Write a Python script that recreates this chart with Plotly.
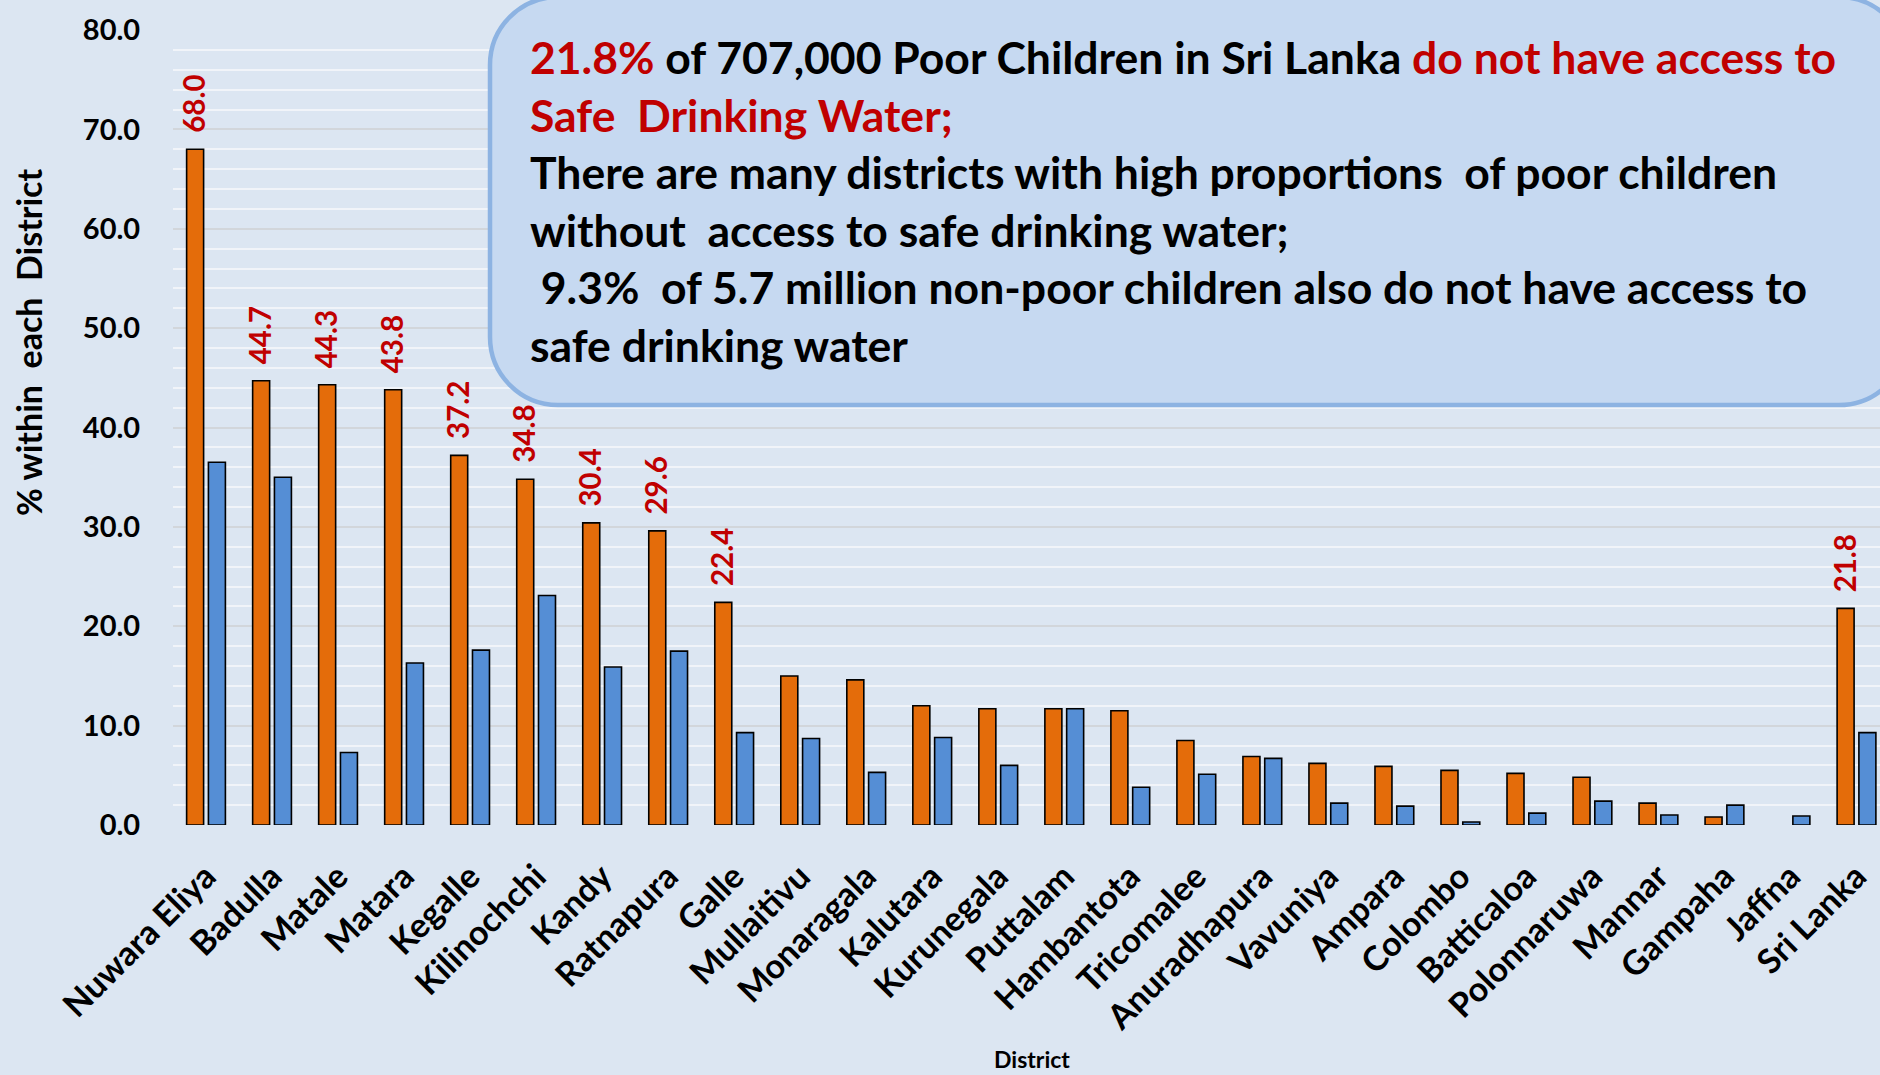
import plotly.graph_objects as go

# ---------------- data ----------------
districts = ["Nuwara Eliya", "Badulla", "Matale", "Matara", "Kegalle", "Kilinochchi",
             "Kandy", "Ratnapura", "Galle", "Mullaitivu", "Monaragala", "Kalutara",
             "Kurunegala", "Puttalam", "Hambantota", "Tricomalee", "Anuradhapura",
             "Vavuniya", "Ampara", "Colombo", "Batticaloa", "Polonnaruwa", "Mannar",
             "Gampaha", "Jaffna", "Sri Lanka"]
poor = [68.0, 44.7, 44.3, 43.8, 37.2, 34.8, 30.4, 29.6, 22.4, 15.0, 14.6, 12.0,
        11.7, 11.7, 11.5, 8.5, 6.9, 6.2, 5.9, 5.5, 5.2, 4.8, 2.2, 0.8, None, 21.8]
non_poor = [36.5, 35.0, 7.3, 16.3, 17.6, 23.1, 15.9, 17.5, 9.3, 8.7, 5.3, 8.8,
            6.0, 11.7, 3.8, 5.1, 6.7, 2.2, 1.9, 0.3, 1.2, 2.4, 1.0, 2.0, 0.9, 9.3]
labelled = ["Nuwara Eliya", "Badulla", "Matale", "Matara", "Kegalle", "Kilinochchi",
            "Kandy", "Ratnapura", "Galle", "Sri Lanka"]
y_ticks = [0, 10, 20, 30, 40, 50, 60, 70, 80]

# ---------------- layout geometry (px) ----------------
W_PAGE, H_PAGE = 1880, 1075
L, R, T, B = 173, 1880, 30, 825
PW, PH = R - L, B - T

def px_x(x):
    return (x - L) / PW

def px_y(y):
    return (B - y) / PH

BG = "#dce6f2"
ORANGE = "#e46c0a"
BLUE = "#558ed5"
RED = "#c00000"
FONT = "Lato"

fig = go.Figure()
fig.add_trace(go.Bar(x=districts, y=poor, name="Poor",
                     marker=dict(color=ORANGE, line=dict(color="#000000", width=1.6))))
fig.add_trace(go.Bar(x=districts, y=non_poor, name="Non-poor",
                     marker=dict(color=BLUE, line=dict(color="#000000", width=1.6))))

annotations = []
# data labels on orange bars
for d, v in zip(districts, poor):
    if d in labelled and v is not None:
        annotations.append(dict(x=d, y=v, xref="x", yref="y", text=f"{v:.1f}", showarrow=False,
                                textangle=-90, xanchor="center", yanchor="bottom", xshift=-12.5, yshift=14,
                                font=dict(family=FONT, size=29.5, color=RED, weight=700)))

# y-axis title
annotations.append(dict(x=px_x(28), y=px_y(342), xref="paper", yref="paper", text="% within  each  District",
                        showarrow=False, textangle=-90, xanchor="center", yanchor="middle",
                        font=dict(family=FONT, size=34, color="#000000", weight=700)))
# x-axis title
annotations.append(dict(x=px_x(1032), y=px_y(1059), xref="paper", yref="paper", text="District",
                        showarrow=False, xanchor="center", yanchor="middle",
                        font=dict(family=FONT, size=23, color="#000000", weight=700)))

# callout box text
def red(s):
    return f"<span style='color:{RED}'>{s}</span>"

box_lines = [
    red("21.8%") + " of 707,000 Poor Children in Sri Lanka " + red("do not have access to"),
    red("Safe\u00a0 Drinking Water;"),
    "There are many districts with high proportions\u00a0 of poor children",
    "without\u00a0 access to safe drinking water;",
    "\u00a09.3%\u00a0 of 5.7 million non-poor children also do not have access to",
    "safe drinking water",
]
baselines = [72.7, 130.2, 187.7, 245.2, 302.7, 360.2]
BOX_FS = 44.5
for txt, bl in zip(box_lines, baselines):
    annotations.append(dict(x=px_x(528), y=px_y(bl - 0.36 * BOX_FS), xref="paper", yref="paper", text=txt,
                            showarrow=False, xanchor="left", yanchor="middle", align="left",
                            font=dict(family=FONT, size=BOX_FS, color="#000000", weight=700)))

# rounded box shape
x0, x1 = px_x(490), px_x(1907)
y0, y1 = px_y(405), px_y(-3)
r = 68
rx, ry = r / PW, r / PH
k = 0.5523
path = (f"M {x0+rx},{y1} L {x1-rx},{y1} "
        f"C {x1-rx+k*rx},{y1} {x1},{y1-ry+k*ry} {x1},{y1-ry} "
        f"L {x1},{y0+ry} "
        f"C {x1},{y0+ry-k*ry} {x1-rx+k*rx},{y0} {x1-rx},{y0} "
        f"L {x0+rx},{y0} "
        f"C {x0+rx-k*rx},{y0} {x0},{y0+ry-k*ry} {x0},{y0+ry} "
        f"L {x0},{y1-ry} "
        f"C {x0},{y1-ry+k*ry} {x0+rx-k*rx},{y1} {x0+rx},{y1} Z")

fig.update_layout(
    width=W_PAGE, height=H_PAGE,
    margin=dict(l=L, r=W_PAGE - R, t=T, b=H_PAGE - B, pad=0),
    paper_bgcolor=BG, plot_bgcolor=BG,
    showlegend=False,
    barmode="group", bargap=0.34, bargroupgap=0.22,
    annotations=annotations,
    shapes=[dict(type="path", path=path, xref="paper", yref="paper", layer="above",
                 fillcolor="#c6d9f1", line=dict(color="#8db3e2", width=4.5))],
    xaxis=dict(type="category", range=[-0.5, 25.356], showgrid=False, zeroline=False, showline=False,
               tickangle=-45, ticks="outside", ticklen=17, tickcolor="rgba(0,0,0,0)",
               tickfont=dict(family=FONT, size=34, color="#000000", weight=700)),
    yaxis=dict(range=[0, 80], tickvals=y_ticks, tickformat=".1f", showgrid=True,
               gridcolor="#d2d6db", gridwidth=1.6, zeroline=False, showline=False,
               ticks="outside", ticklen=26, tickcolor="rgba(0,0,0,0)",
               tickfont=dict(family=FONT, size=29, color="#000000", weight=700),
               minor=dict(dtick=2, showgrid=True, gridcolor="#f1f4f9", gridwidth=1.6)),
)

fig.write_html("out.html")
